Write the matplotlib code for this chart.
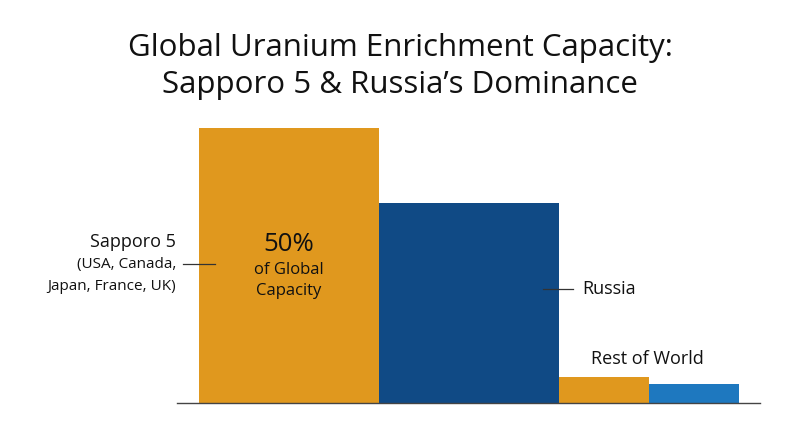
import matplotlib.pyplot as plt

# Data (share of global enrichment capacity, %)
groups = ['Sapporo 5', 'Russia', 'Rest of World', 'Rest of World']
values = [50, 36.3, 4.7, 3.5]
starts = [0, 1, 2, 2.5]
widths = [1, 1, 0.5, 0.5]
colors = ['#E0981E', '#104A85', '#E0981E', '#1E78BF']

FONT = 'Open Sans'
TXT = '#111111'

fig = plt.figure(figsize=(8, 4.47), dpi=100)
ax = fig.add_axes([0.22125, 0.0984, 0.72875, 0.6152])

ax.bar(starts, values, width=widths, align='edge', color=colors, linewidth=0)

ax.set_xlim(-0.122, 3.117)
ax.set_ylim(0, 50)
for s in ['top', 'right', 'left']:
    ax.spines[s].set_visible(False)
ax.spines['bottom'].set_color('#444444')
ax.spines['bottom'].set_linewidth(1)
ax.set_xticks([])
ax.set_yticks([])

# Title
fig.text(0.5, 1 - 48 / 447, 'Global Uranium Enrichment Capacity:', ha='center', va='center',
         fontsize=22.5, family=FONT, color=TXT)
fig.text(0.5, 1 - 85 / 447, 'Sapporo 5 & Russia\u2019s Dominance', ha='center', va='center',
         fontsize=22.5, family=FONT, color=TXT)

# Sapporo 5 label
ax.text(-0.128, 29.3, groups[0], ha='right', va='center', fontsize=13, family=FONT, color=TXT, clip_on=False)
ax.text(-0.128, 25.1, '(USA, Canada,', ha='right', va='center', fontsize=11, family=FONT, color=TXT, clip_on=False)
ax.text(-0.128, 21.1, 'Japan, France, UK)', ha='right', va='center', fontsize=11, family=FONT, color=TXT, clip_on=False)
ax.plot([-0.089, 0.089], [25.3, 25.3], color='#333333', lw=0.9, clip_on=False)

# inside label
ax.text(0.5, 28.9, f'{values[0]:.0f}%', ha='center', va='center', fontsize=18.5, family=FONT, color=TXT)
ax.text(0.5, 24.2, 'of Global', ha='center', va='center', fontsize=12, family=FONT, color=TXT)
ax.text(0.5, 20.4, 'Capacity', ha='center', va='center', fontsize=12, family=FONT, color=TXT)

# Russia label
ax.plot([1.911, 2.078], [20.7, 20.7], color='#333333', lw=0.9, clip_on=False)
ax.text(2.128, 20.7, groups[1], ha='left', va='center', fontsize=13, family=FONT, color=TXT)

# Rest of world label
ax.text(2.494, 8.0, groups[2], ha='center', va='center', fontsize=13, family=FONT, color=TXT)

fig.savefig('out.png', dpi=100, facecolor='white')
